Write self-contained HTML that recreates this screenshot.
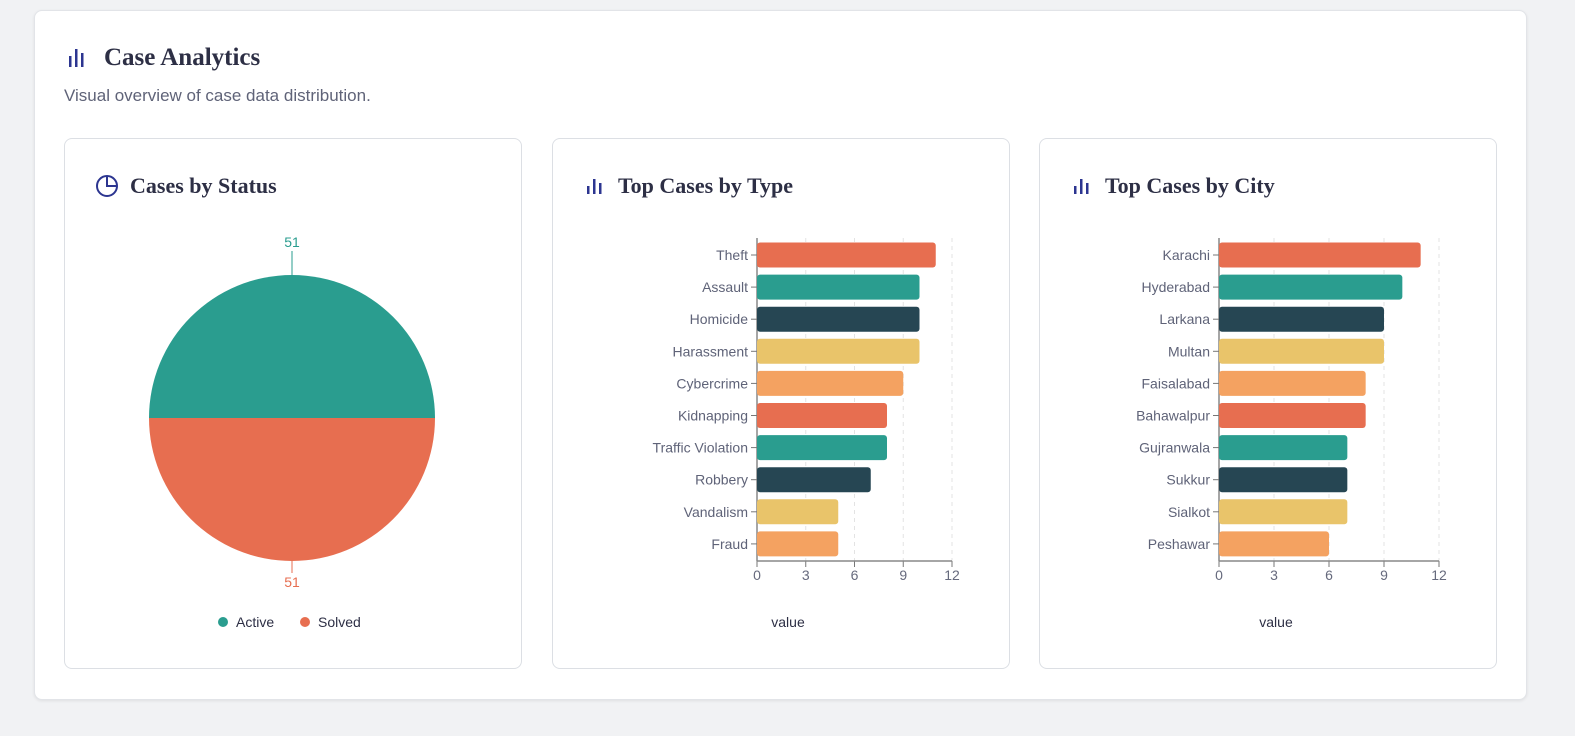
<!DOCTYPE html>
<html><head><meta charset="utf-8"><style>
body{margin:0;width:1575px;height:736px;background:#f1f2f4;font-family:"Liberation Sans",sans-serif;position:relative;overflow:hidden}
.outer{position:absolute;left:34px;top:10px;width:1491px;height:688px;background:#fff;border:1px solid #e2e4e8;border-radius:8px;box-shadow:0 1px 3px rgba(0,0,0,.08)}
.panel{position:absolute;top:138px;height:529px;width:456px;border:1px solid #dcdfe4;border-radius:8px;background:#fff}
.h{position:absolute;font-family:"Liberation Serif",serif;font-weight:bold;color:#2d2f45}
svg{position:absolute;left:0;top:0}
</style></head><body>
<div class="outer"></div>
<div class="panel" style="left:64px"></div>
<div class="panel" style="left:552px"></div>
<div class="panel" style="left:1039px"></div>
<div class="h" style="left:104px;top:44px;font-size:25px">Case Analytics</div>
<div style="position:absolute;left:64px;top:86px;font-size:17px;color:#5f6378">Visual overview of case data distribution.</div>
<div class="h" style="left:130px;top:173px;font-size:22px">Cases by Status</div>
<div class="h" style="left:618px;top:173px;font-size:22px">Top Cases by Type</div>
<div class="h" style="left:1105px;top:173px;font-size:22px">Top Cases by City</div>
<svg width="1575" height="736" id="s" font-family="Liberation Sans, sans-serif">
<g fill="#2c3590"><rect x="69" y="56" width="2.5" height="11"/><rect x="75" y="49" width="2.5" height="18"/><rect x="81" y="53" width="2.5" height="14"/></g>
<g fill="#2c3590"><rect x="587" y="186" width="2.5" height="8"/><rect x="593" y="179" width="2.5" height="15"/><rect x="599" y="183" width="2.5" height="11"/></g>
<g fill="#2c3590"><rect x="1074" y="186" width="2.5" height="8"/><rect x="1080" y="179" width="2.5" height="15"/><rect x="1086" y="183" width="2.5" height="11"/></g>
<g fill="none" stroke="#2c3590" stroke-width="2"><circle cx="107" cy="186" r="10"/><path d="M107 176 V186 H117"/></g>
</svg>
<script>
const statusLabels=["Active","Solved"];
const statusValues=[51,51];
const statusColors=["#2a9d8f","#e76e50"];
const typeCats=["Theft","Assault","Homicide","Harassment","Cybercrime","Kidnapping","Traffic Violation","Robbery","Vandalism","Fraud"];
const typeVals=[11,10,10,10,9,8,8,7,5,5];
const cityCats=["Karachi","Hyderabad","Larkana","Multan","Faisalabad","Bahawalpur","Gujranwala","Sukkur","Sialkot","Peshawar"];
const cityVals=[11,10,9,9,8,8,7,7,7,6];
const xTicks=[0,3,6,9,12];
const palette=["#e76e50","#2a9d8f","#264653","#e9c46a","#f4a261"];
const NS="http://www.w3.org/2000/svg";
const svg=document.getElementById('s');
function mk(t,a,p){const e=document.createElementNS(NS,t);for(const k in a)e.setAttribute(k,a[k]);(p||svg).appendChild(e);return e;}
// pie
(function(){
 const cx=292,cy=418,r=143;const tot=statusValues.reduce((a,b)=>a+b,0);
 let a0=-Math.PI/2;
 statusValues.forEach((v,i)=>{
  const a1=a0+v/tot*2*Math.PI;
  const x0=cx+r*Math.cos(a0),y0=cy+r*Math.sin(a0),x1=cx+r*Math.cos(a1),y1=cy+r*Math.sin(a1);
  // rotate so first slice is top half: start at 180deg
  const s0=Math.PI+(a0+Math.PI/2),s1=Math.PI+(a1+Math.PI/2);
  const p=mk('path',{d:`M${cx} ${cy} L${cx+r*Math.cos(s0)} ${cy+r*Math.sin(s0)} A${r} ${r} 0 ${(a1-a0)>Math.PI?1:0} 1 ${cx+r*Math.cos(s1)} ${cy+r*Math.sin(s1)} Z`,fill:statusColors[i]});
  
  
  const m=(s0+s1)/2;const lx=cx+r*Math.cos(m),ly=cy+r*Math.sin(m);
  const ln=mk('line',{x1:lx,y1:ly,x2:lx,y2:ly+(Math.sin(m)<0?-24:12),stroke:statusColors[i]});
  
  
  const t=mk('text',{x:lx,y:Math.sin(m)<0?ly-28:ly+26,'text-anchor':'middle','font-size':14,fill:statusColors[i]});
  t.textContent=v;
  
  
  a0=a1;
 });
 const lx=[223,305];
 statusLabels.forEach((l,i)=>{
  const c=mk('circle',{cx:lx[i],cy:622,r:5,fill:statusColors[i]});
  
  
  const t=mk('text',{x:lx[i]+13,y:627,'font-size':14,fill:'#2d2f45'});t.textContent=l;
  
  
 });
})();
function bar(cats,vals,x0,x1,name){
 const top=238,bottom=561,yTop=255,step=32.1,bh=25;
 const sx=v=>x0+(x1-x0)*v/12;
 const g=mk('g',{});
 
 
 xTicks.forEach(t=>{
  if(t>0){const gl=mk('line',{x1:sx(t),x2:sx(t),y1:top,y2:bottom,stroke:'#e3e3e3','stroke-dasharray':'4 4'},g);
  }
  mk('line',{x1:sx(t),x2:sx(t),y1:bottom,y2:bottom+6,stroke:'#777'},g);
  const tx=mk('text',{x:sx(t),y:bottom+19,'text-anchor':'middle','font-size':14,fill:'#666a7d'},g);tx.textContent=t;
  
 });
 mk('line',{x1:x0,x2:x0,y1:top,y2:bottom,stroke:'#888','stroke-width':1.5},g);
 mk('line',{x1:x0,x2:x1,y1:bottom,y2:bottom,stroke:'#888','stroke-width':1.5},g);
 cats.forEach((c,i)=>{
  const y=yTop+i*step;
  const r=mk('rect',{x:x0,y:y-bh/2,width:sx(vals[i])-x0,height:bh,rx:3,fill:palette[i%5]},g);
  
  
  mk('line',{x1:x0-6,x2:x0,y1:y,y2:y,stroke:'#777'},g);
  const t=mk('text',{x:x0-9,y:y+5,'text-anchor':'end','font-size':14,fill:'#5f6378'},g);t.textContent=c;
  
 });
 const at=mk('text',{x:(x0+x1)/2-166+x0-x0+ (x0===757?197:205) ,y:627,'text-anchor':'middle','font-size':14,fill:'#2d2f45'},g);
 at.setAttribute('x',x0===757?788:1276);
 at.textContent='value';
 
 
}
bar(typeCats,typeVals,757,952,'type-bar-chart');
bar(cityCats,cityVals,1219,1439,'city-bar-chart');
</script>
</body></html>
